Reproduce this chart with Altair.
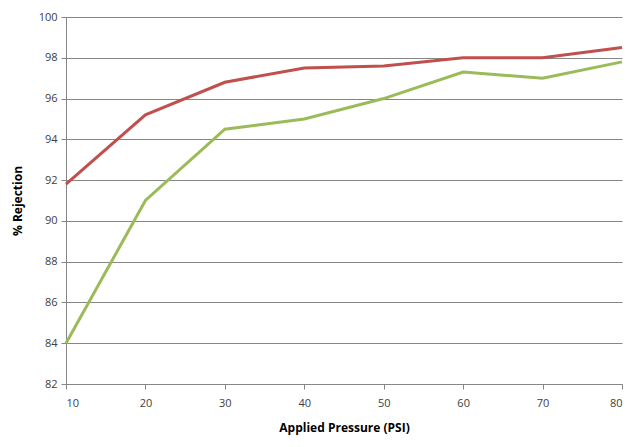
import altair as alt
import pandas as pd

pressure = [10, 20, 30, 40, 50, 60, 70, 80]
series_a = [91.8, 95.2, 96.8, 97.5, 97.6, 98.0, 98.0, 98.5]
series_b = [84.0, 91.0, 94.5, 95.0, 96.0, 97.3, 97.0, 97.8]
series_names = ["Series A", "Series B"]
colors = ["#C0504D", "#9BBB59"]

rows = []
for p, a, b in zip(pressure, series_a, series_b):
    rows.append({"pressure": p, "value": a, "series": series_names[0]})
    rows.append({"pressure": p, "value": b, "series": series_names[1]})
df = pd.DataFrame(rows)

font = "Open Sans"

chart = alt.Chart(df).mark_line(strokeWidth=3).encode(
    x=alt.X("pressure:Q",
            scale=alt.Scale(domain=[10, 80], nice=False),
            axis=alt.Axis(values=pressure, title="Applied Pressure (PSI)",
                          grid=False, tickSize=5, tickColor="#868686",
                          domainColor="#868686", labelColor="#404040",
                          labelFontSize=11, labelFont=font,
                          titleFont=font, titleFontSize=12, titleFontWeight="bold",
                          titleColor="#000000", titlePadding=14, labelPadding=8)),
    y=alt.Y("value:Q",
            scale=alt.Scale(domain=[82, 100], nice=False, zero=False),
            axis=alt.Axis(values=list(range(82, 101, 2)), title="% Rejection",
                          grid=True, gridColor="#868686", gridWidth=1,
                          tickSize=5, tickColor="#868686",
                          domainColor="#868686", labelColor="#404040",
                          labelFontSize=11, labelFont=font,
                          titleFont=font, titleFontSize=12, titleFontWeight="bold",
                          titleColor="#000000", titlePadding=14, labelPadding=4)),
    color=alt.Color("series:N", scale=alt.Scale(domain=series_names, range=colors),
                    legend=None),
    detail="series:N",
).properties(
    width=556, height=367,
    autosize=alt.AutoSizeParams(type="none"),
    padding={"left": 58, "top": 9, "right": 10, "bottom": 55},
).configure_view(stroke=None)

chart.save("out.html", embed_options={"renderer": "svg", "actions": False})
